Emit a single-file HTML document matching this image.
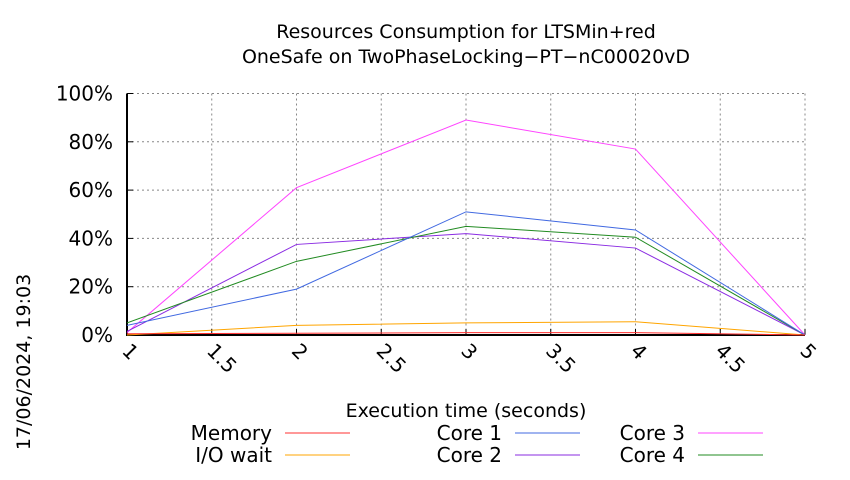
<!DOCTYPE html>
<html><head><meta charset="utf-8"><style>
body{margin:0;background:#fff;}
svg text{font-family:"DejaVu Sans","Liberation Sans",sans-serif;fill:#000;}
</style></head><body>
<svg width="850" height="475" viewBox="0 0 850 475">
<text x="466" y="38" font-size="19" text-anchor="middle">Resources Consumption for LTSMin+red</text>
<text x="466" y="63" font-size="19" text-anchor="middle">OneSafe on TwoPhaseLocking−PT−nC00020vD</text>
<text transform="translate(30,362) rotate(-90)" font-size="19" text-anchor="middle">17/06/2024, 19:03</text>
<g id="grid"></g>
<g id="axes"></g>
<g id="series"></g>
<text x="466" y="417" font-size="19" text-anchor="middle">Execution time (seconds)</text>
<g id="legend"></g>
</svg>
<script>
const xValues=[1,2,3,4,5];
const xTicks=[1,1.5,2,2.5,3,3.5,4,4.5,5];
const yTicks=[0,20,40,60,80,100];
const memory=[0.5,0.7,1,1,0];
const ioWait=[0,4,5,5.5,0];
const core1=[4,19,51,43.5,0];
const core2=[1.5,37.5,42,36,0];
const core3=[1,61,89,77,0];
const core4=[5,30.5,45,40.5,0];
const NS="http://www.w3.org/2000/svg";
const L=127,R=805,T=93.5,B=335;
const sx=v=>L+(v-1)/(5-1)*(R-L);
const sy=v=>B-v/100*(B-T);
function mk(tag,attrs,parent){const e=document.createElementNS(NS,tag);for(const k in attrs)e.setAttribute(k,attrs[k]);parent.appendChild(e);return e;}
const grid=document.getElementById('grid'),axes=document.getElementById('axes'),ser=document.getElementById('series'),leg=document.getElementById('legend');
yTicks.forEach(t=>{
 const y=sy(t);
 if(t>0){const g=mk('line',{x1:L,x2:R,y1:y,y2:y,stroke:'#888','stroke-dasharray':'2,3','stroke-width':1},grid);
 
 }
 const tk=mk('line',{x1:L,x2:L+6,y1:y,y2:y,stroke:'#000'},axes);
 
 
 const tx=mk('text',{x:L-14,y:y+7,'font-size':20,'text-anchor':'end'},axes);tx.textContent=t+'%';
 
 
});
xTicks.forEach(t=>{
 const x=sx(t);
 if(t>1){const g=mk('line',{x1:x,x2:x,y1:T,y2:B,stroke:'#888','stroke-dasharray':'2,3','stroke-width':1},grid);
 
 }
 const tk=mk('line',{x1:x,x2:x,y1:B,y2:B-6,stroke:'#000'},axes);
 
 
 const tx=mk('text',{transform:`translate(${x-6},${B+17}) rotate(45)`,'font-size':20},axes);tx.textContent=String(t);
 
 
});
const bl=mk('path',{d:`M${L},${T}V${B}H${R}`,fill:'none',stroke:'#000','stroke-width':2},axes);


const seriesList=[
 ['Memory',memory,'#ff3030'],['I/O wait',ioWait,'#ffa500'],
 ['Core 1',core1,'#4169e1'],['Core 2',core2,'#8a2be2'],
 ['Core 3',core3,'#ff44ff'],['Core 4',core4,'#228b22']];
const legPos=[[272,433],[272,455],[502,433],[502,455],[685,433],[685,455]];
[4,3,5,2,1,0].forEach(i=>{
 const [n,d,c]=seriesList[i];
 const p=mk('polyline',{points:d.map((v,j)=>sx(xValues[j])+','+sy(v)).join(' '),fill:'none',stroke:c,'stroke-width':1},ser);
 
 
});
seriesList.forEach(([n,d,c],i)=>{
 const [x,y]=legPos[i];
 const t=mk('text',{x:x,y:y+7,'font-size':20,'text-anchor':'end'},leg);t.textContent=n;
 
 
 const l=mk('line',{x1:x+13,x2:x+78,y1:y,y2:y,stroke:c,'stroke-width':1},leg);
 
 
});
</script>
</body></html>
